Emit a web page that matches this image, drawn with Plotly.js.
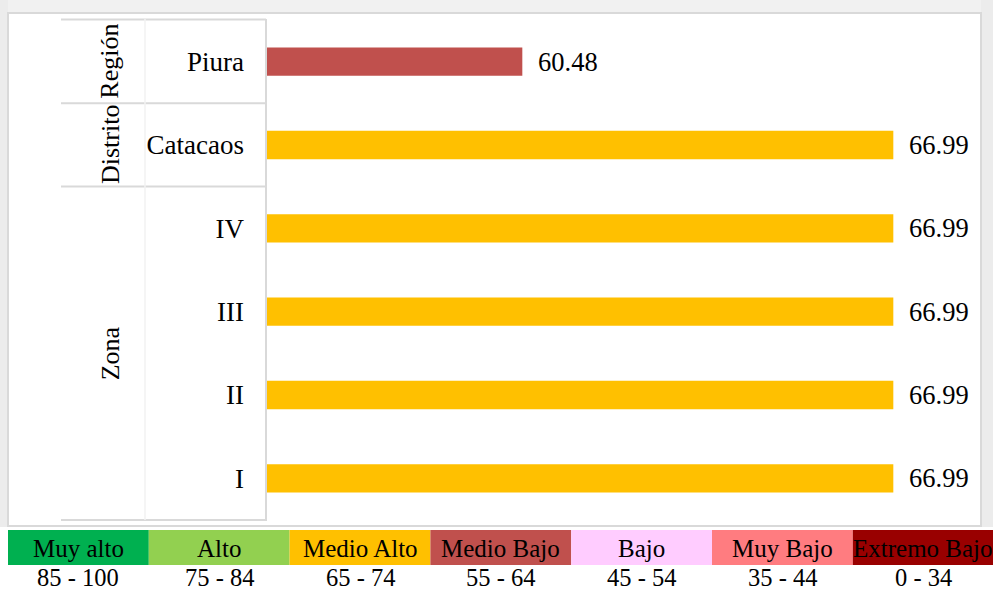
<!DOCTYPE html>
<html>
<head>
<meta charset="utf-8">
<script src="https://cdn.plot.ly/plotly-3.0.1.min.js"></script>
<style>html,body{margin:0;padding:0;background:#fff;}#chart{width:993px;height:592px;}</style>
</head>
<body>
<div id="chart"></div>
<script>
// ---- data ----
const categories = ["I", "II", "III", "IV", "Catacaos", "Piura"];
const values = [66.99, 66.99, 66.99, 66.99, 66.99, 60.48];
const barColors = ["#FFC000", "#FFC000", "#FFC000", "#FFC000", "#FFC000", "#C0504D"];
const groupNames = ["Zona", "Distrito", "Región"];
const groupCenters = [1.5, 4, 5];
const scaleNames = ["Muy alto", "Alto", "Medio Alto", "Medio Bajo", "Bajo", "Muy Bajo", "Extremo Bajo"];
const scaleRanges = ["85 - 100", "75 - 84", "65 - 74", "55 - 64", "45 - 54", "35 - 44", "0 - 34"];
const scaleColors = ["#00B050", "#92D050", "#FFC000", "#C0504D", "#FFCCFF", "#FF7C80", "#990000"];

// ---- layout geometry (pixels) ----
const W = 993, H = 592;
const L = 267, R = 981, T = 20, B = 520;
const px = x => (x - L) / (R - L);
const py = y => (B - y) / (B - T);
const FONT = "Liberation Serif, Times New Roman, serif";
const GRID = "#d9d9d9";

const trace = {
  type: "bar",
  orientation: "h",
  x: values,
  y: categories,
  marker: {color: barColors},
  width: 0.34,
  hoverinfo: "skip"
};

const shapes = [];
const annotations = [];

// outer watermark-ish strips
shapes.push({type:"rect", xref:"paper", yref:"paper", x0:px(0), x1:px(W), y0:py(13), y1:py(0), fillcolor:"#f1f1f1", line:{width:0}, layer:"below"});
shapes.push({type:"rect", xref:"paper", yref:"paper", x0:px(981), x1:px(W), y0:py(527), y1:py(0), fillcolor:"#ececec", line:{width:0}, layer:"below"});
shapes.push({type:"rect", xref:"paper", yref:"paper", x0:px(0), x1:px(8), y0:py(527), y1:py(0), fillcolor:"#ececec", line:{width:0}, layer:"below"});
// chart box
shapes.push({type:"rect", xref:"paper", yref:"paper", x0:px(8), x1:px(981), y0:py(526), y1:py(13), fillcolor:"#ffffff", line:{color:GRID, width:2}, layer:"below"});

// table lines
[19.5, 103.3, 186.5, 520].forEach(y => {
  shapes.push({type:"line", xref:"paper", yref:"paper", x0:px(61), x1:px(266), y0:py(y), y1:py(y), line:{color:GRID, width:2}});
});
shapes.push({type:"line", xref:"paper", yref:"paper", x0:px(266), x1:px(266), y0:py(19), y1:py(521), line:{color:GRID, width:2}});
shapes.push({type:"line", xref:"paper", yref:"paper", x0:px(145), x1:px(145), y0:py(19), y1:py(520), line:{color:"#f2f2f2", width:1.5}});

// group labels
groupNames.forEach((g, i) => {
  annotations.push({text:g, xref:"paper", yref:"y", x:px(110), y:groupCenters[i], textangle:-90,
    showarrow:false, xanchor:"center", yanchor:"middle", font:{family:FONT, size:26, color:"#000"}});
});

// value labels
values.forEach((v, i) => {
  annotations.push({text:v.toFixed(2), xref:"x", yref:"y", x:v, y:categories[i], xanchor:"left",
    xshift:14, showarrow:false, font:{family:FONT, size:26.5, color:"#000"}});
});

// scale legend
scaleNames.forEach((n, i) => {
  const x0 = 8 + i * 140.8, x1 = x0 + 140.8;
  shapes.push({type:"rect", xref:"paper", yref:"paper", x0:px(x0), x1:px(x1 > W ? W + 2 : x1), y0:py(565), y1:py(530),
    fillcolor:scaleColors[i], line:{width:0}});
  annotations.push({text:n, xref:"paper", yref:"paper", x:px((x0 + x1) / 2), y:py(548), xanchor:"center", yanchor:"middle",
    showarrow:false, font:{family:FONT, size:25, color:"#000"}});
  annotations.push({text:scaleRanges[i], xref:"paper", yref:"paper", x:px((x0 + x1) / 2), y:py(577.5), xanchor:"center", yanchor:"middle",
    showarrow:false, font:{family:FONT, size:24.5, color:"#000"}});
});

const layout = {
  width: W, height: H,
  margin: {l: L, r: W - R, t: T, b: H - B, pad: 0},
  paper_bgcolor: "#ffffff",
  plot_bgcolor: "rgba(0,0,0,0)",
  showlegend: false,
  xaxis: {range: [56, 56 + (R - L) / 56.99], showgrid:false, zeroline:false, showticklabels:false, showline:false, ticks:"", fixedrange:true},
  yaxis: {type:"category", categoryorder:"array", categoryarray: categories, range:[-0.5, 5.5],
    showgrid:false, zeroline:false, showline:false, ticks:"", ticklabelstandoff: 22,
    tickfont:{family:FONT, size:27, color:"#000"}, fixedrange:true},
  shapes: shapes,
  annotations: annotations
};

Plotly.newPlot("chart", [trace], layout, {displayModeBar:false, staticPlot:true});
</script>
</body>
</html>
